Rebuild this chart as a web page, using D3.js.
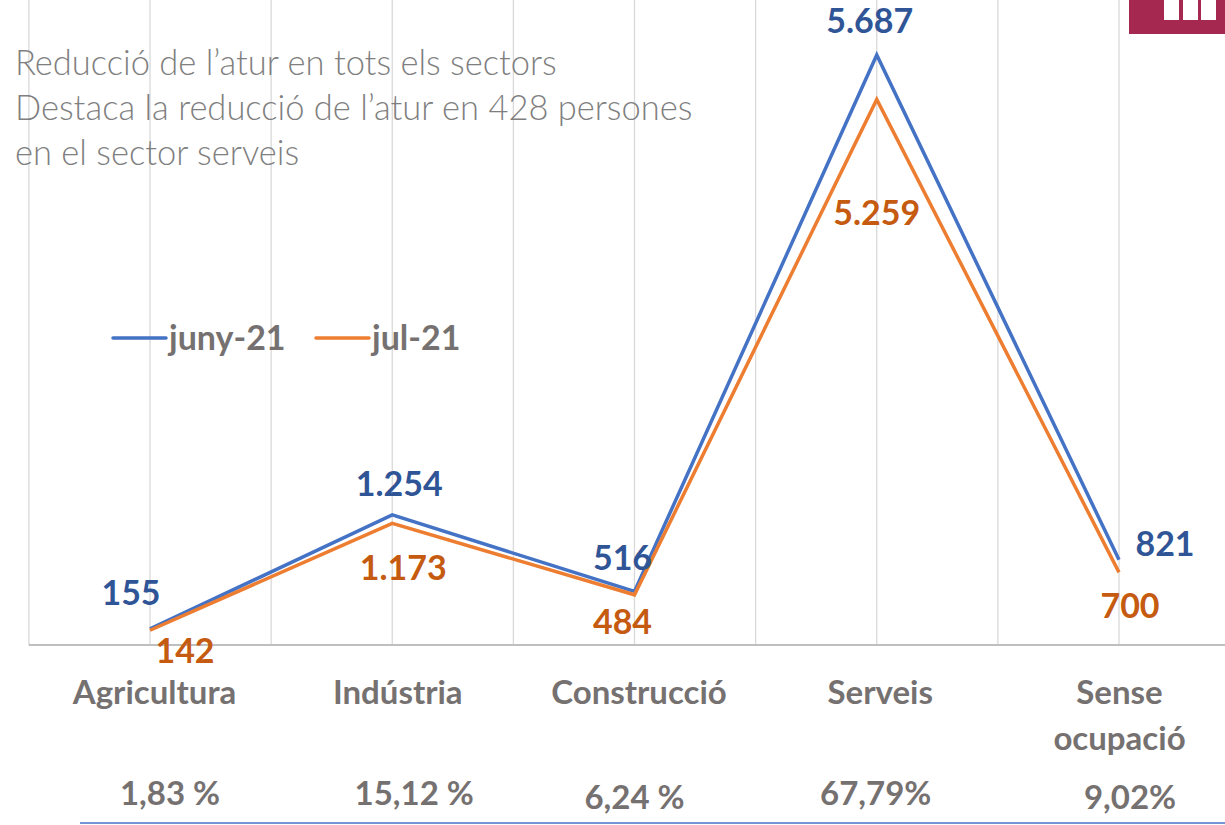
<!DOCTYPE html>
<html>
<head>
    <meta charset="utf-8">
    <title>Reducció de l'atur per sectors</title>
    <script src="https://d3js.org/d3.v7.min.js"></script>
    <style>
        body { margin: 0; background: #fff; }
        svg { display: block; }
    </style>
</head>
<body>
    <svg width="1225" height="825"></svg>
    <script>
        // data
        var sectors = ["Agricultura", "Indústria", "Construcció", "Serveis", "Sense ocupació"];
        var juny21 = [155, 1254, 516, 5687, 821];
        var jul21 = [142, 1173, 484, 5259, 700];
        var shares = ["1,83 %", "15,12 %", "6,24 %", "67,79%", "9,02%"];
        var seriesNames = ["juny-21", "jul-21"];
        var titleLines = [
            "Reducció de l’atur en tots els sectors",
            "Destaca la reducció de l’atur en 428 persones",
            "en el sector serveis"
        ];

        var svg = d3.select("svg");
        var font = "Lato, 'Open Sans', sans-serif";
        var grey = "#767171";

        var x = d3.scalePoint().domain(sectors).range([150, 1119]);
        var step = x.step();
        var y = d3.scaleLinear().domain([0, 5687]).range([645, 55]);

        // vertical gridlines (at each category and halfway between)
        var gridX = d3.range(-0.5, sectors.length, 0.5).map(function(i) { return 150 + i * step; });
        svg.append("g").selectAll("line").data(gridX).enter().append("line")
            .attr("x1", function(d) { return d; }).attr("x2", function(d) { return d; })
            .attr("y1", 0).attr("y2", 645)
            .attr("stroke", "#d9d9d9").attr("stroke-width", 1.3);

        // x axis
        var xAxis = svg.append("g")
            .attr("transform", "translate(0,645)")
            .call(d3.axisBottom(x).tickSize(0).tickPadding(0));
        xAxis.select(".domain").attr("d", "M" + (150 - step / 2) + ",0H1225").attr("stroke", "#bfbfbf").attr("stroke-width", 2);
        xAxis.selectAll(".tick text").remove();
        var labelShift = [4, 5, 4, 3, 0];
        xAxis.selectAll(".tick").each(function(d, i) {
            var t = d3.select(this).append("text")
                .attr("fill", grey).attr("text-anchor", "middle")
                .style("font-family", font).style("font-size", "33px").style("font-weight", "bold");
            if (d === "Sense ocupació") {
                t.append("tspan").attr("x", 0).attr("y", 59).text("Sense");
                t.append("tspan").attr("x", 0).attr("y", 105).text("ocupació");
            } else {
                t.attr("x", labelShift[i]).attr("y", 59).text(d);
            }
        });

        // percentages row
        var shareShift = [20, 22, 0, -1, 11];
        svg.append("g").selectAll("text").data(shares).enter().append("text")
            .attr("x", function(d, i) { return x(sectors[i]) + shareShift[i]; })
            .attr("y", function(d, i) { return i === 2 || i === 4 ? 809 : 805; })
            .attr("text-anchor", "middle")
            .attr("fill", grey)
            .style("font-family", font).style("font-size", "33px").style("font-weight", "bold")
            .text(function(d) { return d; });

        svg.append("line").attr("x1", 80).attr("x2", 1225).attr("y1", 823).attr("y2", 823)
            .attr("stroke", "#4472C4").attr("stroke-width", 1.5);

        // lines
        var line = d3.line()
            .x(function(d, i) { return x(sectors[i]); })
            .y(function(d) { return y(d); });

        var colors = ["#4472C4", "#ED7D31"];
        var labelColors = ["#2F5597", "#C55A11"];
        [juny21, jul21].forEach(function(s, k) {
            svg.append("path").datum(s)
                .attr("fill", "none").attr("stroke", colors[k]).attr("stroke-width", 3.5)
                .attr("d", line);
        });

        // label offsets relative to each point
        var offJun = [[-19, -24], [7, -19], [-12, -21], [-7, -22], [46, -4]];
        var offJul = [[35, 33], [11, 57], [-12, 39], [0, 126], [11, 46]];
        var fmt = function(v) { return d3.format(",")(v).replace(/,/g, "."); };
        [[juny21, offJun], [jul21, offJul]].forEach(function(p, k) {
            svg.append("g").selectAll("text").data(p[0]).enter().append("text")
                .attr("x", function(d, i) { return x(sectors[i]) + p[1][i][0]; })
                .attr("y", function(d, i) { return y(d) + p[1][i][1]; })
                .attr("text-anchor", "middle")
                .attr("fill", labelColors[k])
                .style("font-family", font).style("font-size", "34px").style("font-weight", "bold")
                .text(fmt);
        });

        // legend
        var legend = svg.append("g");
        var lx = [113, 316];
        seriesNames.forEach(function(n, k) {
            legend.append("line").attr("x1", lx[k]).attr("x2", lx[k] + 53)
                .attr("y1", 338).attr("y2", 338)
                .attr("stroke", colors[k]).attr("stroke-width", 3.5).attr("stroke-linecap", "round");
            legend.append("text").attr("x", lx[k] + 56).attr("y", 350)
                .attr("fill", grey)
                .style("font-family", font).style("font-size", "34px").style("font-weight", "bold")
                .text(n);
        });

        // title text
        svg.append("g").selectAll("text").data(titleLines).enter().append("text")
            .attr("x", 15).attr("y", function(d, i) { return 75 + i * 45; })
            .attr("fill", "#7f7f7f")
            .style("font-family", font).style("font-size", "34.5px").style("font-weight", 300)
            .text(function(d) { return d; });

        // logo box top right
        svg.append("rect").attr("x", 1129).attr("y", 0).attr("width", 96).attr("height", 34).attr("fill", "#A4284F");
        [1164, 1183, 1201].forEach(function(rx) {
            svg.append("rect").attr("x", rx).attr("y", 0).attr("width", 15).attr("height", 20).attr("fill", "#fff");
        });
    </script>
</body>
</html>
